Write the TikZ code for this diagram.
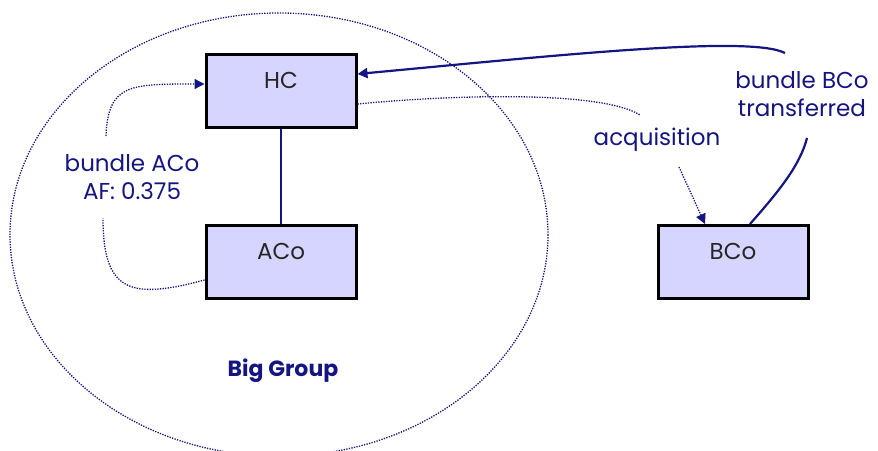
\documentclass[tikz,border=0pt]{standalone}
\usepackage{fontspec}
\setmainfont{Poppins}
\usetikzlibrary{arrows.meta}
\definecolor{navy}{RGB}{20,20,130}
\definecolor{boxfill}{RGB}{213,213,255}
\tikzset{
  box/.style={draw=black, line width=3pt, fill=boxfill, minimum width=150pt, minimum height=73pt, inner sep=0pt},
  boxtext/.style={font=\fontsize{23}{28}\selectfont, text=black!85},
  lbl/.style={font=\fontsize{23}{28}\selectfont, text=navy, align=center},
  dotline/.style={draw=navy, line width=1.3pt, dash pattern=on 1.3pt off 1.3pt},
  solidline/.style={draw=navy, line width=2.2pt},
  tip/.style={-{Triangle[length=10pt,width=10pt]}}
}
\begin{document}
\begin{tikzpicture}[x=1pt,y=-1pt]
\useasboundingbox (0,0) rectangle (878,450);
\clip (0,0) rectangle (878,450);
% group ellipse
\draw[dotline] (279,234.6) ellipse [x radius=269, y radius=221.6];
% boxes
\node[box] (hc) at (281,91) {};
\node[box] (aco) at (281,262) {};
\node[box] (bco) at (733,262) {};
\node[boxtext] (hct) at (281,80) {HC};
\node[boxtext] (acot) at (281,251) {ACo};
\node[boxtext] (bcot) at (733,251) {BCo};
% labels
\node[lbl] (la) at (132,177) {bundle ACo\\AF: 0.375};
\node[lbl] (lb) at (802,94) {bundle BCo\\transferred};
\node[lbl] (lq) at (657,140) {acquisition};
\node[font=\bfseries\fontsize{22}{26}\selectfont, text=navy] (big) at (283,371) {Big Group};
% connectors
\draw[solidline] (hc) -- (aco);
\coordinate (a1) at (106,136);
\coordinate (a2) at (103,218);
\draw[dotline, tip] (a1) .. controls (108,84) and (130,84) .. ([yshift=7pt]hc.west);
\draw[dotline] ([yshift=-18pt]aco.west) .. controls (130,300) and (103,292) .. (a2);
\coordinate (b1) at (785,53);
\coordinate (b2) at (807,138);
\draw[solidline, tip] (b1) .. controls (750,35) and (560,55) .. ([yshift=17pt]hc.east);
\draw[solidline] ([xshift=17pt]bco.north) .. controls (780,190) and (800,165) .. (b2);
\coordinate (q1) at (640,115);
\coordinate (q2) at (679,167);
\draw[dotline] ([yshift=-13pt]hc.east) .. controls (450,95) and (600,90) .. (q1);
\draw[dotline, tip] (q2) -- ([xshift=-28pt]bco.north);
\end{tikzpicture}
\end{document}
